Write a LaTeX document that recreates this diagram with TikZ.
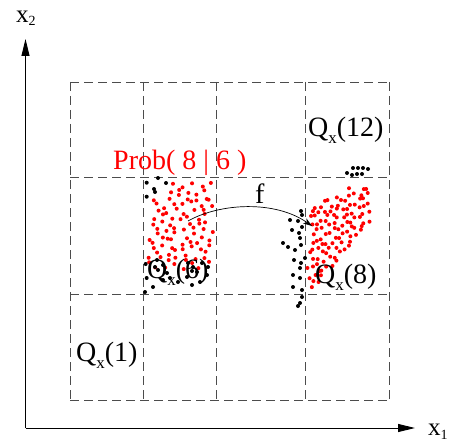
\documentclass[tikz,border=0pt]{standalone}
\usepackage{fontspec}
\setmainfont{Liberation Serif}
\usetikzlibrary{arrows.meta}
\newcommand{\Qsub}[1]{Q\raisebox{-7pt}{\fontsize{17}{17}\selectfont x}(#1)}
\begin{document}
\begin{tikzpicture}[x=1pt,y=-1pt,
  gridline/.style={dash pattern=on 9pt off 5pt, line width=0.9pt, black!70},
  lbl/.style={font=\fontsize{28}{28}\selectfont, inner sep=0pt, anchor=base west},
  axlbl/.style={font=\fontsize{25}{25}\selectfont, inner sep=0pt, anchor=base west},
  axis/.style={line width=1pt, -{Triangle[length=17pt,width=8pt]}},
  rdot/.style={fill=red},
  bdot/.style={fill=black}]
\useasboundingbox (0,0) rectangle (453,444);
% grid
\foreach \gx in {70,143,216,305,389} \draw[gridline] (\gx,82) -- (\gx,400);
\foreach \gy in {82,177,294,400} \draw[gridline] (70,\gy) -- (389,\gy);
% axes
\coordinate (O) at (25.5,428);
\coordinate (Ytip) at (25.5,39);
\coordinate (Xtip) at (415,428);
\draw[axis] (O) -- (Ytip);
\draw[axis] (O) -- (Xtip);
\node[axlbl] (x2) at (16,23) {x\raisebox{-3pt}{\fontsize{14}{14}\selectfont 2}};
\node[axlbl] (x1) at (428,435) {x\raisebox{-4pt}{\fontsize{14}{14}\selectfont 1}};
\pgfmathsetseed{3}
% left red cluster (quasi-random)
\foreach \n in {1,...,96} {
  \pgfmathsetmacro{\px}{149+63*frac(0.5+\n*0.7548777)+2*rand}
  \pgfmathsetmacro{\py}{183+87*frac(0.5+\n*0.5698403)+2*rand}
  \pgfmathtruncatemacro{\skipit}{(\px<166)&&(\py<199)}
  \ifnum\skipit=0 \fill[rdot] (\px,\py) circle (2pt);\fi
}
% right red cluster (quasi-random, wedge)
\foreach \n in {1,...,190} {
  \pgfmathsetmacro{\px}{309+61*frac(0.3+\n*0.7548777)}
  \pgfmathsetmacro{\py}{180+116*frac(0.7+\n*0.5698403)}
  \pgfmathtruncatemacro{\keep}{(\py>(208-27*(\px-309)/60))&&(\py<(295-73*(\px-309)/60))}
  \pgfmathsetmacro{\qx}{\px+1.8*rand}
  \pgfmathsetmacro{\qy}{\py+1.8*rand}
  \ifnum\keep=1 \fill[rdot] (\qx,\qy) circle (2pt);\fi
}
% black dots left
\foreach \p in {(146.7,182.7),(158,178),(166,183),(154,189),(155,192),(146.7,196.7),
  (145.7,264),(155,267),(163,265),(146.7,278),(153,287),(145,292),(158,270),(163,280),
  (170,278),(178,282),(187,277),(192,285),(200,282),(207,275),(202,263),(188,263),
  (193,267),(197,272),(192,271),(208,267),(157,260),(167,273)}
  \fill[bdot] \p circle (2pt);
% black dots right
\foreach \p in {(347,173),(353,168),(358,168),(363,168),(368,169),(352,175),(357,174),(362,174),
  (301,211),(302,215),(290,220),(298,221),(302,227),(292,230),(299,233),(283,243),(288,247),
  (300,238),(301,245),(295,250),(294,260),(301,263),(300,268),(293,275),(300,278),(293,287),
  (302,290),(302,297),(300,303),(298,306),(305,258)}
  \fill[bdot] \p circle (2pt);
% arrow f
\coordinate (fs) at (188,221);
\coordinate (fe) at (312,226);
\draw[line width=0.7pt, -{Stealth[length=9pt,width=6pt]}] (fs) .. controls (220,203) and (275,200) .. (fe);
% labels
\node[lbl] (q12) at (308,136) {\Qsub{12}};
\node[lbl] (q1) at (76,361) {\Qsub{1}};
\node[lbl] (q6) at (147,278) {\Qsub{6}};
\node[lbl] (q8) at (315,283) {\Qsub{8}};
\node[lbl, text=red] (prob) at (113,169) {Prob( 8 | 6 )};
\node[lbl] (f) at (255,203) {f};
\end{tikzpicture}
\end{document}
